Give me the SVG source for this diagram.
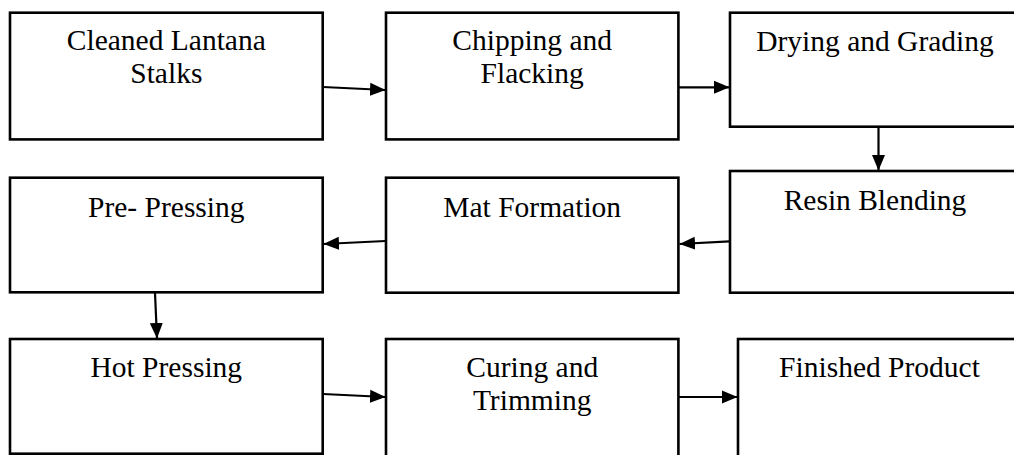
<svg xmlns="http://www.w3.org/2000/svg" width="1014" height="455" viewBox="0 0 1014 455">
  <style>
    .box { fill: #ffffff; stroke: #000000; stroke-width: 2.6; }
    .lbl { font-family: "Liberation Serif", "Times New Roman", serif; font-size: 29.5px; fill: #000000; text-anchor: middle; }
    .link { fill: none; stroke: #000000; stroke-width: 2.2; marker-end: url(#head); }
  </style>
  <defs>
    <marker id="head" markerUnits="userSpaceOnUse" markerWidth="16" markerHeight="14" viewBox="0 0 16 14" refX="15.5" refY="7" orient="auto">
      <path d="M0,0.5 L15.5,7 L0,13.5 z" fill="#000000"/>
    </marker>
  </defs>
  <rect width="1014" height="455" fill="#ffffff"/>

  <!-- process steps, row 1 -->
  <g id="cleaned-stalks">
    <rect class="box" x="10" y="12.7" width="312.7" height="126.7"/>
    <text class="lbl" x="166.3" y="50">Cleaned Lantana</text>
    <text class="lbl" x="166.3" y="83.3">Stalks</text>
  </g>
  <g id="chipping">
    <rect class="box" x="386" y="12.7" width="292.4" height="126.7"/>
    <text class="lbl" x="532.2" y="50">Chipping and</text>
    <text class="lbl" x="532.2" y="83.3">Flacking</text>
  </g>
  <g id="drying">
    <rect class="box" x="730" y="12.7" width="290" height="114"/>
    <text class="lbl" x="875" y="51">Drying and Grading</text>
  </g>

  <!-- process steps, row 2 -->
  <g id="resin">
    <rect class="box" x="730" y="171" width="290" height="121.7"/>
    <text class="lbl" x="875" y="210">Resin Blending</text>
  </g>
  <g id="mat">
    <rect class="box" x="386" y="177.7" width="292.4" height="115"/>
    <text class="lbl" x="532.2" y="216.5">Mat Formation</text>
  </g>
  <g id="pre-pressing">
    <rect class="box" x="10" y="177.7" width="312.7" height="114.6"/>
    <text class="lbl" x="166.3" y="216.5">Pre- Pressing</text>
  </g>

  <!-- process steps, row 3 -->
  <g id="hot-pressing">
    <rect class="box" x="10" y="339" width="312.7" height="114.7"/>
    <text class="lbl" x="166.3" y="377.3">Hot Pressing</text>
  </g>
  <g id="curing">
    <rect class="box" x="386" y="339" width="292.4" height="130"/>
    <text class="lbl" x="532.2" y="376.7">Curing and</text>
    <text class="lbl" x="532.2" y="410">Trimming</text>
  </g>
  <g id="finished">
    <rect class="box" x="738" y="339" width="290" height="130"/>
    <text class="lbl" x="879.5" y="376.7">Finished Product</text>
  </g>

  <!-- flow connectors -->
  <g id="connectors">
    <path class="link" d="M323,87 L385.5,90"/>
    <path class="link" d="M679,87.3 L729.5,87.3"/>
    <path class="link" d="M878.5,127 L878.5,170.5"/>
    <path class="link" d="M729.5,241.3 L679.5,244"/>
    <path class="link" d="M385.5,241 L323.5,244"/>
    <path class="link" d="M155,293 L157,338.5"/>
    <path class="link" d="M323,394 L385.5,397"/>
    <path class="link" d="M679,397 L737.5,397"/>
  </g>
</svg>
